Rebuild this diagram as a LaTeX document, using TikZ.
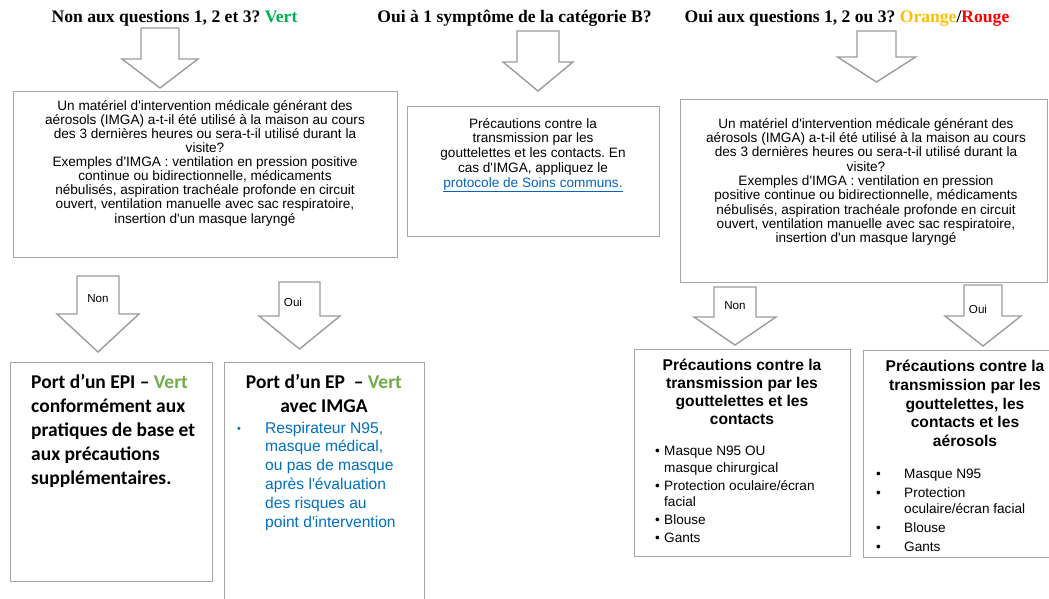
\documentclass[tikz,border=0pt]{standalone}
\usepackage{fontspec}
\setmainfont{Liberation Serif}
\newfontfamily\arialf{Liberation Sans}
\newfontfamily\calibf{Carlito}
\definecolor{boxgray}{HTML}{A6A6A6}
\definecolor{arrgray}{HTML}{9C9C9C}
\definecolor{hgreen}{HTML}{00B050}
\definecolor{vgreen}{HTML}{70AD47}
\definecolor{horange}{HTML}{FFC000}
\definecolor{hred}{HTML}{FF0000}
\definecolor{linkblue}{HTML}{0563C1}
\definecolor{listblue}{HTML}{0070C0}
\frenchspacing
\newcommand\blockarrow[6]{%
  \draw[barrow] ({#1-#5},#2) -- ({#1+#5},#2) -- ({#1+#5},#3) -- ({#1+#6},#3)
    -- (#1,#4) -- ({#1-#6},#3) -- ({#1-#5},#3) -- cycle;}
\begin{document}
\begin{tikzpicture}[x=1pt,y=-1pt,
  box/.style={draw=boxgray, line width=1.3pt, inner sep=0pt, anchor=north west},
  barrow/.style={draw=arrgray, line width=1.4pt, fill=white, line join=miter},
  hd/.style={font=\bfseries\fontsize{17.6}{20}\selectfont, inner sep=0pt, anchor=base},
  qtxt/.style={font=\arialf\fontsize{13.6}{14.1}\selectfont, align=center, inner sep=0pt, anchor=north},
  lbl/.style={font=\arialf\fontsize{11.6}{13}\selectfont, inner sep=0pt},
  epi/.style={font=\calibf\bfseries\fontsize{19.5}{23.8}\selectfont, inner sep=0pt},
  ptitle/.style={font=\arialf\bfseries\fontsize{15.6}{17.8}\selectfont, align=center, inner sep=0pt, anchor=north},
  plist/.style={font=\arialf\fontsize{13.6}{16.5}\selectfont, align=left, inner sep=0pt, anchor=north west}
]
\useasboundingbox (0,0) rectangle (1049,599);
\clip (0,0) rectangle (1049,599);
\fill[white] (0,0) rectangle (1049,599);

% headings
\node[hd] (h1) at (174.5,23) {Non aux questions 1, 2 et 3? \textcolor{hgreen}{Vert}};
\node[hd] (h2) at (514.5,23) {Oui à 1 symptôme de la catégorie B?};
\node[hd] (h3) at (847,23) {Oui aux questions 1, 2 ou 3? \textcolor{horange}{Orange}/\textcolor{hred}{Rouge}};

% top arrows
\blockarrow{160}{28}{59}{88}{19}{38}
\blockarrow{538}{31}{62}{91}{21}{35}
\blockarrow{876.5}{31}{57}{82}{19.5}{39}

% boxes
\node[box, minimum width=384pt, minimum height=166pt] (b1) at (13,91) {};
\node[box, minimum width=252pt, minimum height=130pt] (b2) at (407,106) {};
\node[box, minimum width=367pt, minimum height=183pt] (b3) at (680,99) {};
\node[box, minimum width=202pt, minimum height=219pt] (b4) at (10,362) {};
\node[box, minimum width=200pt, minimum height=260pt] (b5) at (224,362) {};
\node[box, minimum width=216pt, minimum height=207pt] (b6) at (634,349) {};
\node[box, minimum width=190pt, minimum height=207pt] (b7) at (863,350) {};

% lower arrows
\blockarrow{98}{276}{314}{352}{21}{41}
\blockarrow{299.5}{282}{316}{349}{20.5}{40.5}
\blockarrow{735}{287}{317}{345}{21}{41}
\blockarrow{983}{285}{316}{346}{19}{38}
\node[lbl] (l1) at (98,299) {Non};
\node[lbl] (l2) at (293,302) {Oui};
\node[lbl] (l3) at (735,306) {Non};
\node[lbl] (l4) at (978,309) {Oui};

% box texts
\node[qtxt] (t1) at (205,100) {Un matériel d'intervention médicale générant des\\
aérosols (IMGA) a-t-il été utilisé à la maison au cours\\
des 3 dernières heures ou sera-t-il utilisé durant la\\
visite?\\
Exemples d'IMGA : ventilation en pression positive\\
continue ou bidirectionnelle, médicaments\\
nébulisés, aspiration trachéale profonde en circuit\\
ouvert, ventilation manuelle avec sac respiratoire,\\
insertion d'un masque laryngé};

\node[qtxt, font=\arialf\fontsize{13.6}{14.7}\selectfont] (t2) at (533,118) {Précautions contre la\\
transmission par les\\
gouttelettes et les contacts. En\\
cas d'IMGA, appliquez le\\
\textcolor{linkblue}{\underline{protocole de Soins communs.}}};

\node[qtxt, font=\arialf\fontsize{13.6}{14.3}\selectfont] (t3) at (866,118) {Un matériel d'intervention médicale générant des\\
aérosols (IMGA) a-t-il été utilisé à la maison au cours\\
des 3 dernières heures ou sera-t-il utilisé durant la\\
visite?\\
Exemples d'IMGA : ventilation en pression\\
positive continue ou bidirectionnelle, médicaments\\
nébulisés, aspiration trachéale profonde en circuit\\
ouvert, ventilation manuelle avec sac respiratoire,\\
insertion d'un masque laryngé};

\node[epi, align=left, anchor=north west] (t4) at (31,374.5) {Port d’un EPI – \textcolor{vgreen}{Vert}\\
conformément aux\\
pratiques de base et\\
aux précautions\\
supplémentaires.};

\node[epi, align=center, anchor=north] (t5) at (324,374.5) {Port d’un EP\ \ – \textcolor{vgreen}{Vert}\\
avec IMGA};
\node[plist, font=\arialf\fontsize{15.6}{18.9}\selectfont, text=listblue] (t5l) at (237,421.5) {\makebox[28pt][l]{\fontsize{11}{11}\selectfont\raisebox{1pt}{•}}Respirateur N95,\\
\hspace*{28pt}masque médical,\\
\hspace*{28pt}ou pas de masque\\
\hspace*{28pt}après l'évaluation\\
\hspace*{28pt}des risques au\\
\hspace*{28pt}point d'intervention};

\node[ptitle] (t6) at (742,359) {Précautions contre la\\
transmission par les\\
gouttelettes et les\\
contacts};
\node[plist] (t6l) at (655,446) {\makebox[9pt][l]{•}Masque N95 OU\\
\hspace*{9pt}masque chirurgical\\[1.5pt]
\makebox[9pt][l]{•}Protection oculaire/écran\\
\hspace*{9pt}facial\\[1.5pt]
\makebox[9pt][l]{•}Blouse\\[1.5pt]
\makebox[9pt][l]{•}Gants};

\node[ptitle, font=\arialf\bfseries\fontsize{15.6}{18.7}\selectfont] (t7) at (965,360) {Précautions contre la\\
transmission par les\\
gouttelettes, les\\
contacts et les\\
aérosols};
\node[plist] (t7l) at (876,468.5) {\makebox[28pt][l]{•}Masque N95\\[2.5pt]
\makebox[28pt][l]{•}Protection\\
\hspace*{28pt}oculaire/écran facial\\[2pt]
\makebox[28pt][l]{•}Blouse\\[2.5pt]
\makebox[28pt][l]{•}Gants};
\end{tikzpicture}
\end{document}
